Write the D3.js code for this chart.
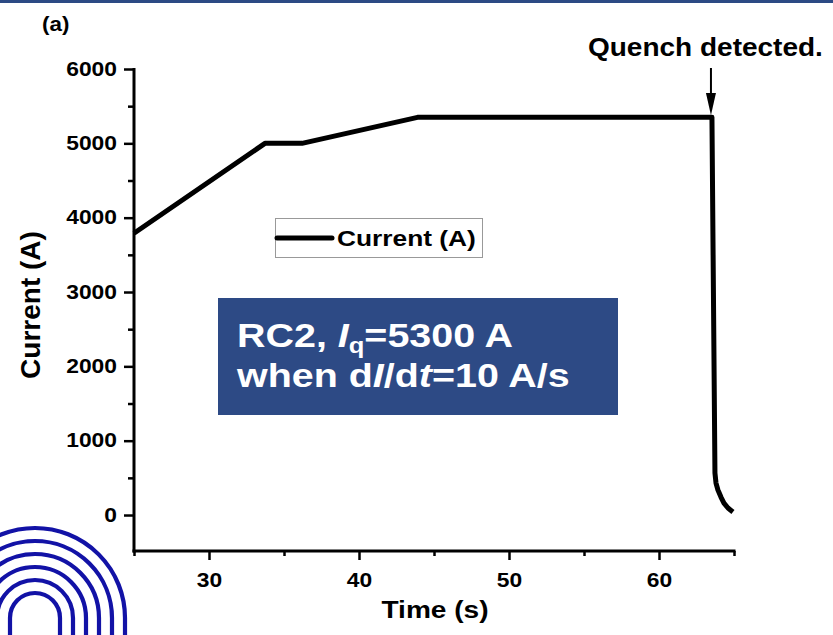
<!DOCTYPE html>
<html><head><meta charset="utf-8">
<script src="https://cdn.jsdelivr.net/npm/d3@7"></script>
<style>
html,body{margin:0;padding:0;background:#fff;}
svg{display:block;font-family:"Liberation Sans",Arial,sans-serif;font-weight:bold;}
</style></head>
<body><svg id="c" width="833" height="635"></svg>
<script>
// ---- data ----
const times   = [25, 33.73, 36.2, 43.9, 63.53, 63.73, 63.8, 63.93, 64.13, 64.33, 64.6, 64.93];
const current = [3790, 5000, 5000, 5350, 5350, 565, 430, 336, 242, 161, 94, 40];
const xMajorTicks = [30, 40, 50, 60];
const xMinorTicks = [25, 35, 45, 55, 65];
const yMajorTicks = [0, 1000, 2000, 3000, 4000, 5000, 6000];
const yMinorTicks = [500, 1500, 2500, 3500, 4500, 5500];
const seriesName = "Current (A)";
const xTitle = "Time (s)";
const yTitle = "Current (A)";
const panelLabel = "(a)";
const annotation = "Quench detected.";
const quenchTime = 63.53, quenchCurrent = 5350;

const svg = d3.select("#c");
const W = 833, H = 635;
svg.append("rect").attr("width", W).attr("height", H).attr("fill", "#fff");
svg.append("rect").attr("x", 0).attr("y", 0).attr("width", W).attr("height", 3).attr("fill", "#2C4A84");

const x = d3.scaleLinear().domain([25, 65]).range([134, 734]);
const y = d3.scaleLinear().domain([-484, 6000]).range([551, 69]);

// logo arches
const logo = svg.append("g").attr("fill", "none").attr("stroke", "#1212A6").attr("stroke-width", 4.2);
[25, 38, 51, 64, 77, 90].forEach(r => {
  const cx = 35, cy = 618;
  logo.append("path").attr("d", `M${cx - r},640 L${cx - r},${cy} A${r},${r} 0 0 1 ${cx + r},${cy} L${cx + r},640`);
});

// axes
const sx = 1.17;
function styleAxis(g) {
  g.selectAll(".domain").remove();
  g.selectAll(".tick line").attr("stroke", "#000").attr("stroke-width", 2.5);
}
const gx = svg.append("g").attr("transform", `translate(0,${y(-484)})`)
  .call(d3.axisBottom(x).tickValues(xMajorTicks).tickSize(9).tickSizeOuter(0).tickFormat(d3.format("d")));
styleAxis(gx);
gx.selectAll(".tick text").attr("fill", "#000").attr("font-size", 19.5).attr("font-weight", "bold")
  .attr("font-family", "Liberation Sans, Arial, sans-serif").attr("y", 22).attr("dy", "0.71em")
  .attr("transform", `scale(${sx},1)`);
const gxm = svg.append("g").attr("transform", `translate(0,${y(-484)})`)
  .call(d3.axisBottom(x).tickValues(xMinorTicks).tickSize(5).tickSizeOuter(0).tickFormat(""));
styleAxis(gxm);

const gy = svg.append("g").attr("transform", `translate(${x(25)},0)`)
  .call(d3.axisLeft(y).tickValues(yMajorTicks).tickSize(10).tickSizeOuter(0).tickFormat(d3.format("d")));
styleAxis(gy);
gy.selectAll(".tick text").attr("fill", "#000").attr("font-size", 19.5).attr("font-weight", "bold")
  .attr("font-family", "Liberation Sans, Arial, sans-serif").attr("x", 0)
  .attr("transform", `translate(-17,0) scale(${sx},1)`);
const gym = svg.append("g").attr("transform", `translate(${x(25)},0)`)
  .call(d3.axisLeft(y).tickValues(yMinorTicks).tickSize(6).tickSizeOuter(0).tickFormat(""));
styleAxis(gym);

// axis lines
svg.append("line").attr("x1", x(25) - 1.5).attr("x2", x(65) + 1.5).attr("y1", y(-484)).attr("y2", y(-484))
  .attr("stroke", "#000").attr("stroke-width", 3);
svg.append("line").attr("x1", x(25)).attr("x2", x(25)).attr("y1", y(6000) - 1).attr("y2", y(-484) + 1.5)
  .attr("stroke", "#000").attr("stroke-width", 3);

// axis titles
svg.append("g").attr("transform", `translate(${(x(25) + x(65)) / 2 + 1},618) scale(1.17,1)`)
  .append("text").attr("text-anchor", "middle").attr("font-size", 24).text(xTitle);
svg.append("text").attr("transform", `translate(40,305) rotate(-90)`).attr("text-anchor", "middle")
  .attr("font-size", 28).text(yTitle);

// panel label
svg.append("g").attr("transform", "translate(42,31) scale(1.12,1)")
  .append("text").attr("font-size", 20).text(panelLabel);

// data line
const pts = times.map((t, i) => [t, current[i]]);
svg.append("path").datum(pts)
  .attr("d", d3.line().x(d => x(d[0])).y(d => y(d[1])))
  .attr("fill", "none").attr("stroke", "#000").attr("stroke-width", 5)
  .attr("stroke-linejoin", "round");

// legend
const lg = svg.append("g");
lg.append("rect").attr("x", 275.5).attr("y", 218.5).attr("width", 207).attr("height", 39)
  .attr("fill", "#fff").attr("stroke", "#999").attr("stroke-width", 1);
lg.append("line").attr("x1", 277).attr("x2", 332).attr("y1", 238).attr("y2", 238)
  .attr("stroke", "#000").attr("stroke-width", 5).attr("stroke-linecap", "round");
lg.append("g").attr("transform", `translate(337,246) scale(1.17,1)`)
  .append("text").attr("font-size", 22.5).text(seriesName);

// info box
svg.append("rect").attr("x", 218).attr("y", 298).attr("width", 400).attr("height", 117).attr("fill", "#2D4A85");
const t1 = svg.append("g").attr("transform", "translate(237,347) scale(1.16,1)")
  .append("text").attr("font-size", 34).attr("fill", "#fff");
t1.append("tspan").text("RC2, ");
t1.append("tspan").attr("font-style", "italic").text("I");
t1.append("tspan").attr("font-size", 22).attr("dy", 6).text("q");
t1.append("tspan").attr("dy", -6).text("=5300 A");
const t2 = svg.append("g").attr("transform", "translate(237,387) scale(1.16,1)")
  .append("text").attr("font-size", 34).attr("fill", "#fff");
t2.append("tspan").text("when d");
t2.append("tspan").attr("font-style", "italic").text("I");
t2.append("tspan").text("/d");
t2.append("tspan").attr("font-style", "italic").text("t");
t2.append("tspan").text("=10 A/s");

// annotation
svg.append("g").attr("transform", "translate(588,56) scale(1.12,1)")
  .append("text").attr("font-size", 25).text(annotation);
const ax = x(quenchTime) - 1;
svg.append("line").attr("x1", ax).attr("x2", ax).attr("y1", 68).attr("y2", 98)
  .attr("stroke", "#000").attr("stroke-width", 2);
svg.append("path").attr("d", `M${ax - 5},93 L${ax + 5},93 L${ax},${y(quenchCurrent) - 2} Z`).attr("fill", "#000");
</script></body></html>
